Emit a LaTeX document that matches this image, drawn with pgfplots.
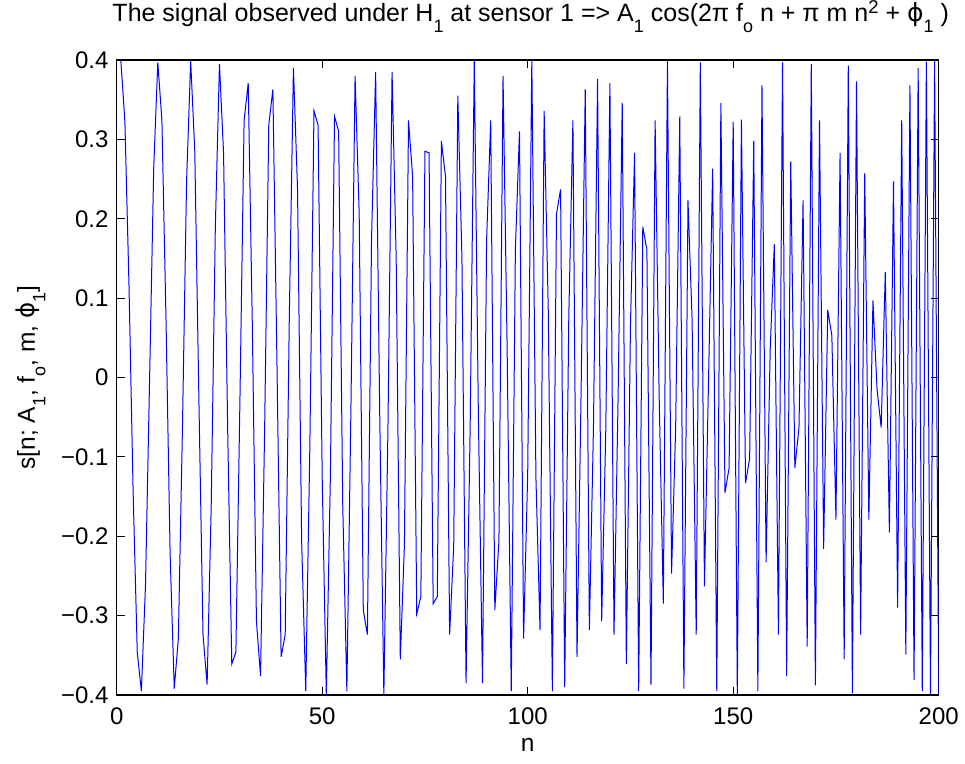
\documentclass[border=0pt]{standalone}
\usepackage{fontspec}
\setmainfont{Liberation Sans}
\newfontfamily\dejavu{DejaVu Sans}
\usepackage{pgfplots}
\pgfplotsset{compat=1.18}
\newcommand{\sbs}[1]{\raisebox{-10.5pt}{\fontsize{18}{18}\selectfont #1}}
\newcommand{\sps}[1]{\raisebox{8.5pt}{\fontsize{18.5}{18}\selectfont #1}}
\newcommand{\phiv}{{\dejavu ϕ}}
\newcommand{\tickfont}{\fontsize{24}{28}\selectfont}
\newcommand{\labfont}{\fontsize{24.5}{28}\selectfont}
\newcommand{\titfont}{\fontsize{25}{29}\selectfont}
\begin{document}
\tickfont
\begin{tikzpicture}
\useasboundingbox (-116.7pt,-68pt) rectangle (848.3pt,695pt);
\begin{axis}[
  at={(0pt,0pt)}, anchor=south west,
  scale only axis, width=822pt, height=635pt,
  xmin=0, xmax=200, ymin=-0.4, ymax=0.4,
  xtick={0,50,100,150,200},
  xticklabels={0,50,100,150,200},
  ytick={-0.4,-0.3,-0.2,-0.1,0,0.1,0.2,0.3,0.4},
  yticklabels={−0.4,−0.3,−0.2,−0.1,0,0.1,0.2,0.3,0.4},
  tick align=inside,
  major tick length=8pt,
  tick style={black, line width=1pt},
  axis line style={black, line width=1.3pt},
  tick label style={font=\tickfont},
  xticklabel style={yshift=-5pt},
  title={The signal observed under H\sbs{1} at sensor 1 => A\sbs{1} cos(2π f\sbs{o} n + π m n\sps{2} + \phiv\sbs{1} )},
  title style={font=\titfont, at={(axis description cs:0.5,1)}, anchor=base, yshift=32pt, xshift=3pt},
  xlabel={n},
  xlabel style={font=\labfont, at={(axis description cs:0.5,0)}, anchor=base, yshift=-56pt},
  ylabel={s[n; A\sbs{1}, f\sbs{o}, m, \phiv\sbs{1}]},
  ylabel style={font=\labfont, at={(axis description cs:-0.0994,0.5)}, anchor=base},
]
\addplot[color=blue, line width=1pt] coordinates {
(1,0.400) (2,0.322) (3,0.114) (4,-0.145) (5,-0.346) (6,-0.395) (7,-0.263) (8,-0.003) (9,0.263) (10,0.397)
(11,0.324) (12,0.072) (13,-0.223) (14,-0.392) (15,-0.329) (16,-0.063) (17,0.247) (18,0.399) (19,0.285) (20,-0.028)
(21,-0.324) (22,-0.387) (23,-0.161) (24,0.190) (25,0.395) (26,0.283) (27,-0.065) (28,-0.361) (29,-0.346) (30,-0.023)
(31,0.324) (32,0.371) (33,0.065) (34,-0.307) (35,-0.376) (36,-0.063) (37,0.318) (38,0.363) (39,0.015) (40,-0.352)
(41,-0.324) (42,0.077) (43,0.390) (44,0.237) (45,-0.206) (46,-0.395) (47,-0.085) (48,0.336) (49,0.318) (50,-0.126)
(51,-0.400) (52,-0.121) (53,0.329) (54,0.310) (55,-0.161) (56,-0.395) (57,-0.035) (58,0.380) (59,0.206) (60,-0.293)
(61,-0.324) (62,0.173) (63,0.385) (64,-0.048) (65,-0.400) (66,-0.063) (67,0.385) (68,0.150) (69,-0.355) (70,-0.212)
(71,0.324) (72,0.253) (73,-0.298) (74,-0.276) (75,0.285) (76,0.283) (77,-0.285) (78,-0.276) (79,0.298) (80,0.253)
(81,-0.324) (82,-0.212) (83,0.355) (84,0.150) (85,-0.385) (86,-0.063) (87,0.400) (88,-0.048) (89,-0.385) (90,0.173)
(91,0.324) (92,-0.293) (93,-0.206) (94,0.380) (95,0.035) (96,-0.395) (97,0.161) (98,0.310) (99,-0.329) (100,-0.121)
(101,0.400) (102,-0.126) (103,-0.318) (104,0.336) (105,0.085) (106,-0.395) (107,0.206) (108,0.237) (109,-0.390) (110,0.077)
(111,0.324) (112,-0.352) (113,-0.015) (114,0.363) (115,-0.318) (116,-0.063) (117,0.376) (118,-0.307) (119,-0.065) (120,0.371)
(121,-0.324) (122,-0.023) (123,0.346) (124,-0.361) (125,0.065) (126,0.283) (127,-0.395) (128,0.190) (129,0.161) (130,-0.387)
(131,0.324) (132,-0.028) (133,-0.285) (134,0.399) (135,-0.247) (136,-0.063) (137,0.329) (138,-0.392) (139,0.223) (140,0.072)
(141,-0.324) (142,0.397) (143,-0.263) (144,-0.003) (145,0.263) (146,-0.395) (147,0.346) (148,-0.145) (149,-0.114) (150,0.322)
(151,-0.400) (152,0.325) (153,-0.133) (154,-0.102) (155,0.298) (156,-0.395) (157,0.368) (158,-0.233) (159,0.035) (160,0.168)
(161,-0.324) (162,0.397) (163,-0.376) (164,0.272) (165,-0.114) (166,-0.063) (167,0.223) (168,-0.339) (169,0.395) (170,-0.388)
(171,0.324) (172,-0.216) (173,0.085) (174,0.053) (175,-0.179) (176,0.283) (177,-0.355) (178,0.393) (179,-0.398) (180,0.373)
(181,-0.324) (182,0.257) (183,-0.179) (184,0.097) (185,-0.015) (186,-0.063) (187,0.133) (188,-0.195) (189,0.247) (190,-0.290)
(191,0.324) (192,-0.349) (193,0.368) (194,-0.381) (195,0.390) (196,-0.395) (197,0.398) (198,-0.399) (199,0.400) (200,-0.400)
};
\end{axis}
\end{tikzpicture}
\end{document}
